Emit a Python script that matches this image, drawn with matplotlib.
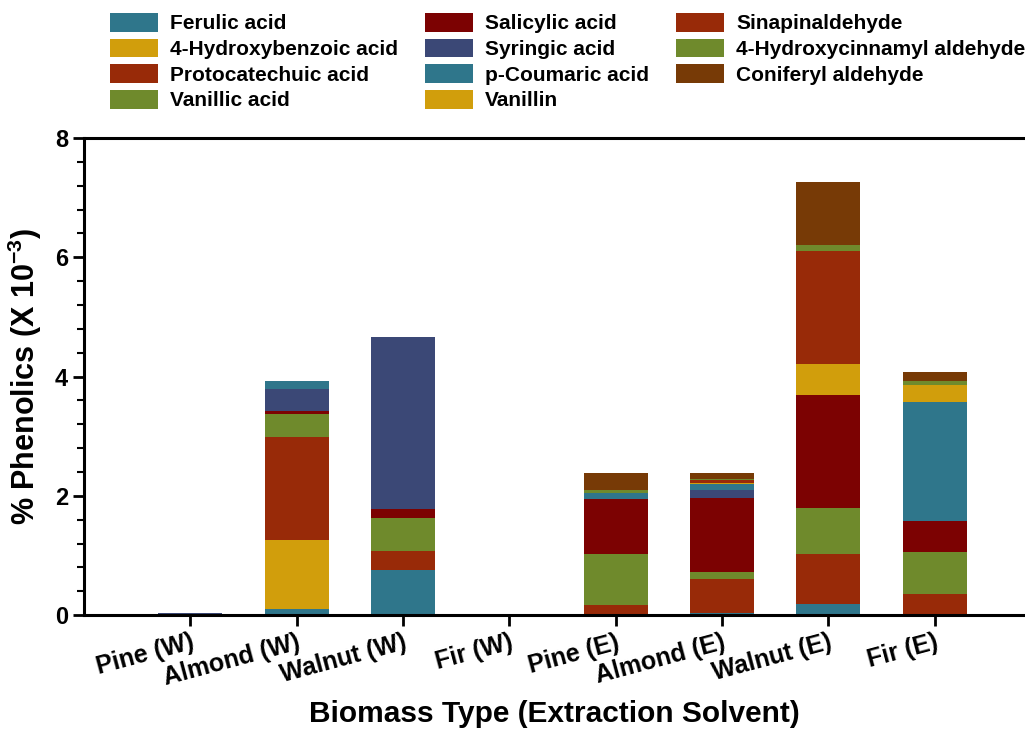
import matplotlib.pyplot as plt
import matplotlib.transforms as mtransforms
import numpy as np

plt.rcParams['font.family'] = ['Liberation Sans', 'DejaVu Sans']
plt.rcParams['font.weight'] = 'bold'
plt.rcParams['mathtext.fontset'] = 'custom'
plt.rcParams['mathtext.bf'] = 'Liberation Sans:bold'
plt.rcParams['mathtext.rm'] = 'Liberation Sans:bold'

# Biomass / solvent groups
samples = ['Pine (W)', 'Almond (W)', 'Walnut (W)', 'Fir (W)',
           'Pine (E)', 'Almond (E)', 'Walnut (E)', 'Fir (E)']

# Compounds, in stacking order (bottom to top)
compounds = ['Ferulic acid', '4-Hydroxybenzoic acid', 'Protocatechuic acid',
             'Vanillic acid', 'Salicylic acid', 'Syringic acid',
             'p-Coumaric acid', 'Vanillin', 'Sinapinaldehyde',
             '4-Hydroxycinnamyl aldehyde', 'Coniferyl aldehyde']

colors = ['#2f768b', '#d19e0c', '#982a08', '#6f8a2c', '#7c0202', '#3b4876',
          '#2f768b', '#d19e0c', '#982a08', '#6f8a2c', '#773a06']

# % phenolics (x 10^-3), one list per compound across samples
ferulic      = [0.00, 0.10, 0.76, 0.00, 0.00, 0.04, 0.19, 0.00]
hydroxybenz  = [0.00, 1.16, 0.00, 0.00, 0.00, 0.00, 0.00, 0.00]
protocatech  = [0.00, 1.73, 0.31, 0.00, 0.17, 0.56, 0.83, 0.35]
vanillic     = [0.00, 0.38, 0.56, 0.00, 0.85, 0.13, 0.78, 0.71]
salicylic    = [0.00, 0.05, 0.15, 0.00, 0.92, 1.24, 1.89, 0.51]
syringic     = [0.03, 0.37, 2.89, 0.00, 0.00, 0.13, 0.00, 0.00]
p_coumaric   = [0.00, 0.14, 0.00, 0.00, 0.11, 0.09, 0.00, 2.01]
vanillin     = [0.00, 0.00, 0.00, 0.00, 0.00, 0.03, 0.52, 0.27]
sinapinald   = [0.00, 0.00, 0.00, 0.00, 0.00, 0.04, 1.89, 0.00]
hydroxycinn  = [0.00, 0.00, 0.00, 0.00, 0.05, 0.02, 0.10, 0.08]
coniferyl    = [0.00, 0.00, 0.00, 0.00, 0.29, 0.11, 1.07, 0.14]

values = [ferulic, hydroxybenz, protocatech, vanillic, salicylic, syringic,
          p_coumaric, vanillin, sinapinald, hydroxycinn, coniferyl]

fig = plt.figure(figsize=(10.25, 7.34), dpi=100)
ax = fig.add_axes([0.082, 0.162, 0.918, 0.650])

x = np.arange(len(samples))
bottom = np.zeros(len(samples))
handles = []
for name, vals, c in zip(compounds, values, colors):
    b = ax.bar(x, vals, 0.6, bottom=bottom, color=c, label=name)
    handles.append(b)
    bottom += np.array(vals)

ax.set_xlim(-1, 7.85)
ax.set_ylim(0, 8)
ax.set_yticks([0, 2, 4, 6, 8])
ax.set_yticks(np.arange(0, 8.01, 0.4), minor=True)
ax.set_xticks(x)
ax.set_xticklabels(samples, rotation=15, ha='right', va='top',
                   rotation_mode='anchor', fontsize=18, fontweight='bold')
# nudge the rotated labels a little to the right, like the original
shift = mtransforms.ScaledTranslation(8 / 100, 0, fig.dpi_scale_trans)
for lbl in ax.get_xticklabels():
    lbl.set_transform(lbl.get_transform() + shift)

ax.tick_params(axis='y', which='major', labelsize=17, length=8, width=2)
ax.tick_params(axis='y', which='minor', length=5, width=1.5)
ax.tick_params(axis='x', length=8, width=2, pad=3)
for lbl in ax.get_yticklabels():
    lbl.set_fontweight('bold')

for s in ['left', 'top', 'bottom']:
    ax.spines[s].set_linewidth(2.2)
ax.spines['right'].set_visible(False)

ax.set_ylabel(r'% Phenolics (X 10$^{\mathbf{-3}}$)', fontsize=22,
              fontweight='bold', labelpad=8)
ax.set_xlabel('Biomass Type (Extraction Solvent)', fontsize=21.5,
              fontweight='bold', labelpad=7)

fig.legend(handles=handles, labels=compounds, ncol=3, loc='upper left',
           bbox_to_anchor=(110 / 1025, 1 - 13 / 734), frameon=False,
           prop={'size': 15, 'weight': 'bold'},
           handlelength=2.3, handleheight=1.0, handletextpad=0.58,
           columnspacing=1.3, labelspacing=0.25, borderpad=0,
           borderaxespad=0)

fig.savefig('out.png', dpi=100)
